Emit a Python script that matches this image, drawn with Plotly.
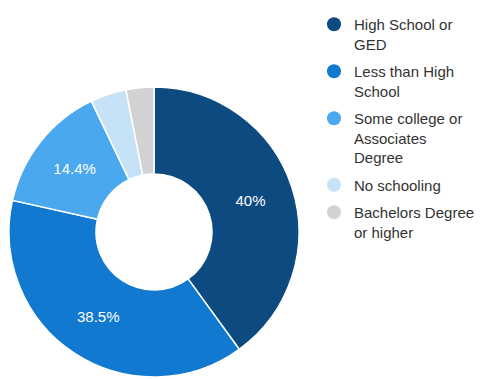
import plotly.graph_objects as go

categories = ["High School or GED", "Less than High School", "Some college or Associates Degree",
              "No schooling", "Bachelors Degree or higher"]
legend_labels = ["High School or<br>GED", "Less than High<br>School", "Some college or<br>Associates<br>Degree",
                 "No schooling", "Bachelors Degree<br>or higher"]
values = [40, 38.5, 14.4, 4.0, 3.1]
show_label = [True, True, True, False, False]
colors = ["#0c4a80", "#1179d0", "#4aa8ee", "#c6e2f6", "#d2d2d2"]

W, H = 485, 379
cx, cy, R = 146, 224, 145

fig = go.Figure()
fig.add_trace(go.Pie(
    labels=categories, values=values, sort=False, direction="clockwise", rotation=0,
    hole=0.4,
    marker=dict(colors=colors, line=dict(color="white", width=1.5)),
    texttemplate=["%{value}%" if s else "" for s in show_label],
    textposition="inside", insidetextorientation="horizontal",
    textfont=dict(family="Arial, Liberation Sans", size=15, color="white"),
    showlegend=False,
    domain=dict(x=[(cx - R) / W, (cx + R) / W], y=[1 - (cy + R) / H, 1 - (cy - R) / H]),
))
for i, (lab, col) in enumerate(zip(legend_labels, colors)):
    fig.add_trace(go.Scatter(x=[None], y=[None], mode="markers", name=lab, legendgroup=f"g{i}",
                             marker=dict(color=col, size=14, symbol="circle")))

fig.update_layout(
    width=W, height=H, margin=dict(l=0, r=0, t=0, b=0),
    paper_bgcolor="white", plot_bgcolor="white",
    xaxis=dict(visible=False), yaxis=dict(visible=False),
    legend=dict(x=306 / W, y=1, xanchor="left", yanchor="top", valign="top",
                font=dict(family="Arial, Liberation Sans", size=15, color="#333333"),
                itemwidth=30, tracegroupgap=5),
)
fig.write_html("out.html")
